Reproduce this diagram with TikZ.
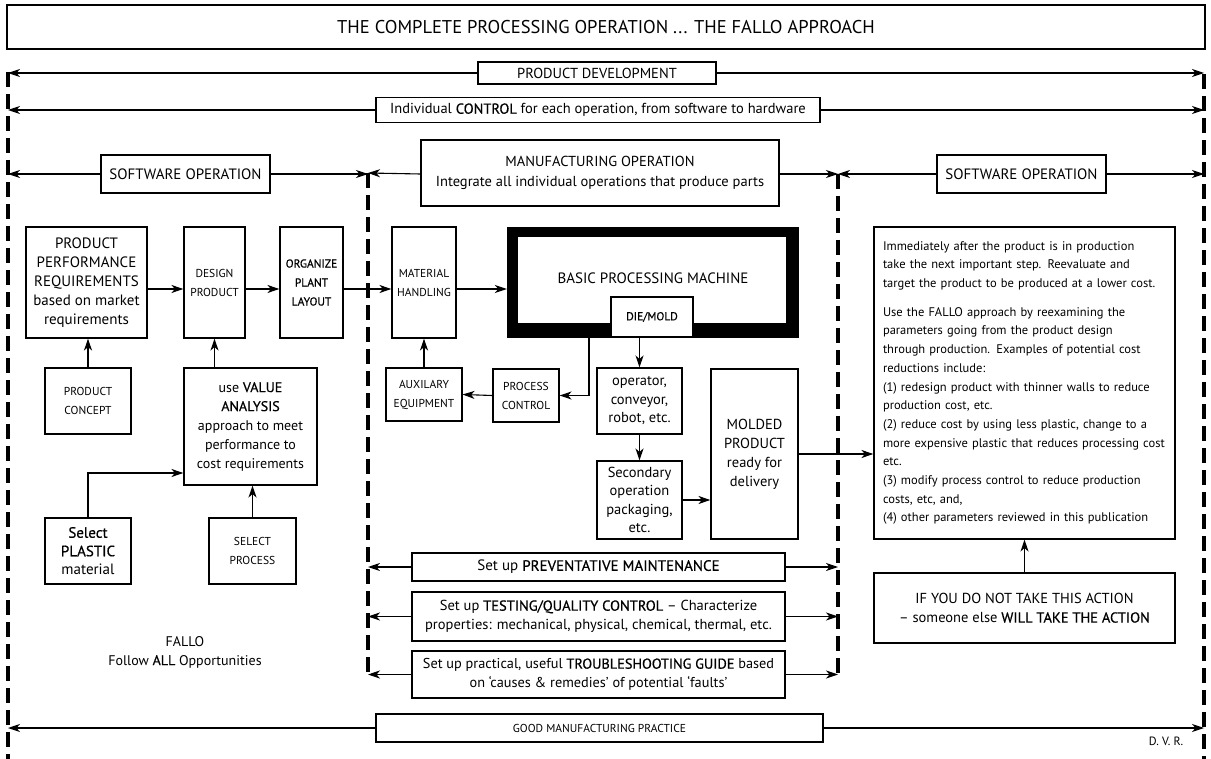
\documentclass[tikz,border=0pt]{standalone}
\usepackage{fontspec}
\setmainfont{PT Sans}
\newfontfamily\semib[FakeBold=0.6]{PT Sans}
\usetikzlibrary{arrows.meta,calc}
\newcommand\emw[1]{{\semib #1}}
\newcommand\fs[2]{\fontsize{#1}{#2}\selectfont}
\begin{document}
\begin{tikzpicture}[x=1pt,y=-1pt,
  box/.style={draw,line width=1.1pt,inner sep=0pt,align=center},
  arr/.style={line width=1.1pt,-{Stealth[length=12pt,width=8pt,inset=3.5pt]}},
  dashv/.style={line width=4pt,dash pattern=on 15pt off 7pt},
  small/.style={font=\fs{11.5}{19}}]
\useasboundingbox (0,0) rectangle (1211,759);

% vertical reference lines
\coordinate (oLt) at (8,72);   \coordinate (oLb) at (8,759);
\coordinate (oRt) at (1204,74); \coordinate (oRb) at (1204,759);
\coordinate (mLt) at (368,173); \coordinate (mLb) at (368,678);
\coordinate (mRt) at (838,174); \coordinate (mRb) at (838,678);
\draw[dashv] (oLt) -- (oLb);
\draw[dashv] (oRt) -- (oRb);
\draw[dashv] (mLt) -- (mLb);
\draw[dashv] (mRt) -- (mRb);

% title
\node[box,minimum width=1198,minimum height=44,font=\fs{18.5}{22}] (title) at (606,27)
  {THE COMPLETE PROCESSING OPERATION ... THE FALLO APPROACH};

% top bands
\node[box,minimum width=238,minimum height=22,font=\fs{14.5}{17}] (pd) at (597,73) {PRODUCT DEVELOPMENT};
\node[box,minimum width=444,minimum height=25,font=\fs{14.5}{17}] (ctrl) at (598,110)
  {Individual \emw{CONTROL} for each operation, from software to hardware};
\draw[arr] (pd.west) -- (pd.west -| oLt);
\draw[arr] (pd.east) -- (pd.east -| oRt);
\draw[arr] (ctrl.west) -- (ctrl.west -| oLt);
\draw[arr] (ctrl.east) -- (ctrl.east -| oRt);

\node[box,minimum width=169,minimum height=38,font=\fs{15}{18}] (swL) at (185.5,174) {SOFTWARE OPERATION};
\node[box,minimum width=358,minimum height=66,font=\fs{14.5}{20}] (mfg) at (600,173)
  {MANUFACTURING OPERATION\\Integrate all individual operations that produce parts};
\node[box,minimum width=169,minimum height=38,font=\fs{15}{18}] (swR) at (1021.5,174) {SOFTWARE OPERATION};
\draw[arr] (swL.west) -- (swL.west -| oLt);
\draw[arr] (swL.east) -- (swL.east -| mLt);
\draw[arr] (mfg.west |- swL.east) -- (mLt);
\draw[arr] (mfg.east |- swR.west) -- (mRt);
\draw[arr] (swR.west) -- (swR.west -| mRt);
\draw[arr] (swR.east) -- (swR.east -| oRt);

% left column
\coordinate (rowA) at (0,289);
\coordinate (rowB) at (0,473);
\node[box,minimum width=121,minimum height=111,font=\fs{15}{19}] (ppr) at (86.5,282.5)
  {PRODUCT\\PERFORMANCE\\REQUIREMENTS\\based on market\\requirements};
\node[box,minimum width=61,minimum height=111,small] (des) at (214.5,282.5) {DESIGN\\PRODUCT};
\node[box,minimum width=63,minimum height=111,font=\fs{11.5}{19}\semib] (org) at (311.5,282.5) {ORGANIZE\\PLANT\\LAYOUT};
\node[box,minimum width=86,minimum height=66,small] (con) at (88,401) {PRODUCT\\CONCEPT};
\node[box,minimum width=133,minimum height=117,font=\fs{14}{19}] (val) at (250.5,426.5)
  {use \emw{VALUE}\\\emw{ANALYSIS}\\approach to meet\\performance to\\cost requirements};
\node[box,minimum width=86,minimum height=66,font=\fs{15}{18.5}] (pla) at (88,551)
  {\emw{Select}\\\emw{PLASTIC}\\material};
\node[box,minimum width=87,minimum height=66,small] (spr) at (252.5,551) {SELECT\\PROCESS};
\node[align=center,font=\fs{14}{19}] (fallo) at (185,652) {FALLO\\Follow \emw{ALL} Opportunities};

\draw[arr] (ppr.east |- rowA) -- (des.west |- rowA);
\draw[arr] (des.east |- rowA) -- (org.west |- rowA);
\draw[arr] (con.north) -- (con.north |- ppr.south);
\draw[arr] (val.north -| des.south) -- (des.south);
\draw[arr] (pla.north) |- (val.west |- rowB);
\draw[arr] (spr.north) -- (spr.north |- val.south);

% middle: manufacturing
\node[box,minimum width=64,minimum height=111,small] (mh) at (424,282.5) {MATERIAL\\HANDLING};
\node[fill=black,minimum width=292,minimum height=111,inner sep=0pt] (bpm) at (653,282.5) {};
\node[fill=white,minimum width=268,minimum height=86,inner sep=0pt] (bpmin) at (652,280) {};
\node[font=\fs{15}{18}] (bpmtxt) at (653,278) {BASIC PROCESSING MACHINE};
\node[box,fill=white,minimum width=82,minimum height=40,font=\fs{11.5}{14}\semib] (die) at (652,317) {DIE/MOLD};
\draw[arr] (org.east |- rowA) -- (mh.west |- rowA);
\draw[arr] (mh.east |- rowA) -- (bpm.west |- rowA);

\node[box,minimum width=76,minimum height=53,small] (aux) at (424,394.5) {AUXILARY\\EQUIPMENT};
\node[box,minimum width=66,minimum height=53,small] (pc) at (526,395.5) {PROCESS\\CONTROL};
\node[box,minimum width=85,minimum height=66,font=\fs{14.5}{18.5}] (op) at (639.5,401)
  {operator,\\conveyor,\\robot, etc.};
\node[box,minimum width=85,minimum height=78,font=\fs{14.5}{18.5}] (sec) at (639.5,500)
  {Secondary\\operation\\packaging,\\etc.};
\node[box,minimum width=87,minimum height=170,font=\fs{14.5}{19}] (mold) at (754.5,454)
  {MOLDED\\PRODUCT\\ready for\\delivery};
\coordinate (pcX) at (589,0);
\draw[arr] (bpm.south -| pcX) |- (pc.east);
\draw[arr] (pc.west) -- (aux.east);
\draw[arr] (aux.north) -- (mh.south);
\draw[arr] (op.north |- die.south) -- (op.north);
\draw[arr] (op.south) -- (sec.north);
\draw[arr] (sec.east) -- (sec.east -| mold.west);

% right column
\node[box,minimum width=301,minimum height=312,text width=283pt,inner xsep=9pt,align=left,font=\fs{12.5}{18.7}] (txt) at (1024.5,383)
  {Immediately after the product is in production\\
   take the next important step. Reevaluate and\\
   target the product to be produced at a lower cost.\\[10pt]
   Use the FALLO approach by reexamining the\\
   parameters going from the product design\\
   through production. Examples of potential cost\\
   reductions include:\\
   (1) redesign product with thinner walls to reduce\\
   production cost, etc.\\
   (2) reduce cost by using less plastic, change to a\\
   more expensive plastic that reduces processing cost\\
   etc.\\
   (3) modify process control to reduce production\\
   costs, etc, and,\\
   (4) other parameters reviewed in this publication};
\node[box,minimum width=301,minimum height=70,font=\fs{14.5}{19}] (ifb) at (1024.5,608)
  {IF YOU DO NOT TAKE THIS ACTION\\– someone else \emw{WILL TAKE THE ACTION}};
\draw[arr] (mold.east) -- (mold.east -| txt.west);
\draw[arr] (ifb.north) -- (txt.south);

% bottom bands
\node[box,minimum width=373,minimum height=28,font=\fs{15}{18}] (pm) at (598.5,567)
  {Set up \emw{PREVENTATIVE MAINTENANCE}};
\node[box,minimum width=373,minimum height=49,font=\fs{14.5}{19}] (tqc) at (598.5,616.5)
  {Set up \emw{TESTING/QUALITY CONTROL} – Characterize\\properties: mechanical, physical, chemical, thermal, etc.};
\node[box,minimum width=373,minimum height=47,font=\fs{14.3}{19}] (ts) at (598.5,674.5)
  {Set up practical, useful \emw{TROUBLESHOOTING GUIDE} based\\on ‘causes \& remedies’ of potential ‘faults’};
\node[box,minimum width=447,minimum height=28,small] (gmp) at (599.5,728) {GOOD MANUFACTURING PRACTICE};
\foreach \b in {pm,tqc,ts}{
  \draw[arr] (\b.west) -- (\b.west -| mLt);
  \draw[arr] (\b.east) -- (\b.east -| mRt);
}
\draw[arr] (gmp.west) -- (gmp.west -| oLt);
\draw[arr] (gmp.east) -- (gmp.east -| oRt);
\node[font=\fs{12}{14}] (dvr) at (1166,741) {D. V. R.};
\end{tikzpicture}
\end{document}
